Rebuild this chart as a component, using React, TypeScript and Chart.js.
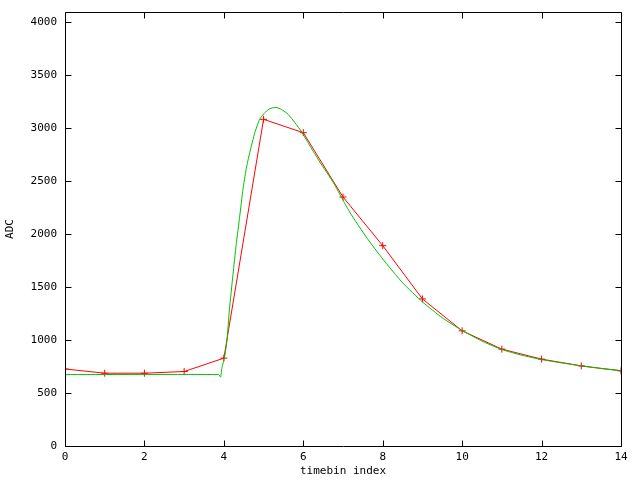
import React, { useEffect, useRef } from "react";
import { Chart, registerables } from "chart.js";

Chart.register(...registerables);

// measured data (red) — ADC per timebin
const redX = [0, 1, 2, 3, 4, 5, 6, 7, 8, 9, 10, 11, 12, 13, 14];
const redY = [727, 687, 687, 703, 829, 3083, 2957, 2350, 1891, 1388, 1087, 914, 820, 756, 709];

// fitted curve (green)
const greenX = [
  0, 3.87, 3.92, 3.95, 4.02, 4.08, 4.14, 4.23, 4.31, 4.4, 4.48, 4.56, 4.65, 4.78, 4.9, 5.03, 5.16,
  5.31, 5.45, 5.62, 5.79, 5.96, 6.17, 6.4, 6.76, 7.0, 7.18, 7.6, 8.0, 8.5, 9.0, 9.5, 10.0, 10.5,
  11.0, 11.5, 12.0, 12.5, 13.0, 13.5, 14.0,
];
const greenY = [
  674, 674, 650, 738, 840, 1000, 1286, 1620, 1900, 2170, 2420, 2610, 2768, 2957, 3083, 3146, 3184,
  3196, 3177, 3130, 3051, 2965, 2830, 2690, 2484, 2320, 2200, 1964, 1765, 1540, 1360, 1210, 1090, 990,
  910, 857, 815, 785, 756, 732, 712,
];

const xTicks = [0, 2, 4, 6, 8, 10, 12, 14];
const yTicks = [0, 500, 1000, 1500, 2000, 2500, 3000, 3500, 4000];
const xMin = 0;
const xMax = 14;
const yMin = 0;
const yMax = 4096;
const xTitle = "timebin index";
const yTitle = "ADC";

const FONT = "'DejaVu Sans Mono', 'Liberation Mono', monospace";

const framePlugin = {
  id: "gnuplotFrame",
  afterDatasetsDraw(chart: any) {
    const { ctx, chartArea } = chart;
    const { left, right, top, bottom } = chartArea;
    const xs = chart.scales.x;
    const ys = chart.scales.y;
    const tl = 6;
    ctx.save();
    ctx.strokeStyle = "#000";
    ctx.lineWidth = 1;
    ctx.beginPath();
    ctx.rect(left + 0.5, top + 0.5, right - left, bottom - top);
    for (const v of xTicks) {
      const px = Math.round(xs.getPixelForValue(v)) + 0.5;
      ctx.moveTo(px, bottom + 0.5);
      ctx.lineTo(px, bottom + 0.5 - tl);
      ctx.moveTo(px, top + 0.5);
      ctx.lineTo(px, top + 0.5 + tl);
    }
    for (const v of yTicks) {
      const py = Math.round(ys.getPixelForValue(v)) + 0.5;
      ctx.moveTo(left + 0.5, py);
      ctx.lineTo(left + 0.5 + tl, py);
      ctx.moveTo(right + 0.5, py);
      ctx.lineTo(right + 0.5 - tl, py);
    }
    ctx.stroke();
    ctx.restore();
  },
};

export default function App() {
  const ref = useRef<HTMLCanvasElement | null>(null);

  useEffect(() => {
    document.body.style.margin = "0";
    const canvas = ref.current;
    if (!canvas) return;
    const chart = new Chart(canvas, {
      type: "line",
      data: {
        datasets: [
          {
            label: "fit",
            data: greenX.map((x, i) => ({ x, y: greenY[i] })),
            borderColor: "#00c000",
            borderWidth: 1,
            pointRadius: 0,
            tension: 0.15,
            fill: false,
            order: 0,
          },
          {
            label: "data",
            data: redX.map((x, i) => ({ x, y: redY[i] })),
            borderColor: "#ff0000",
            borderWidth: 1,
            pointStyle: "cross",
            pointRadius: 3.5,
            pointBorderWidth: 1,
            pointBorderColor: "#ff0000",
            pointBackgroundColor: "#ff0000",
            tension: 0,
            fill: false,
            order: 1,
          },
        ],
      },
      options: {
        animation: false,
        responsive: false,
        devicePixelRatio: 1,
        events: [],
        layout: { padding: { top: 12, right: 19, left: 0, bottom: 0 } },
        plugins: {
          legend: { display: false },
          tooltip: { enabled: false },
          title: { display: false },
        },
        scales: {
          x: {
            type: "linear",
            min: xMin,
            max: xMax,
            grid: { display: false, drawTicks: false, tickLength: 0 },
            border: { display: false },
            afterBuildTicks: (s: any) => {
              s.ticks = xTicks.map((v) => ({ value: v }));
            },
            afterFit: (s: any) => {
              s.height = 34;
              s.paddingLeft = 0;
              s.paddingRight = 0;
            },
            ticks: {
              padding: 5,
              maxRotation: 0,
              autoSkip: false,
              color: "#000",
              font: { family: FONT, size: 11 },
              callback: (v: any) => String(v),
            },
            title: {
              display: true,
              text: xTitle,
              color: "#000",
              font: { family: FONT, size: 11 },
              padding: { top: 0, bottom: 2 },
            },
          },
          y: {
            type: "linear",
            min: yMin,
            max: yMax,
            grid: { display: false, drawTicks: false, tickLength: 0 },
            border: { display: false },
            afterBuildTicks: (s: any) => {
              s.ticks = yTicks.map((v) => ({ value: v }));
            },
            afterFit: (s: any) => {
              s.width = 65;
              s.paddingTop = 0;
              s.paddingBottom = 0;
            },
            ticks: {
              padding: 8,
              autoSkip: false,
              color: "#000",
              font: { family: FONT, size: 11 },
              callback: (v: any) => String(v),
            },
            title: {
              display: true,
              text: yTitle,
              color: "#000",
              font: { family: FONT, size: 11 },
              padding: { top: 4, bottom: 0 },
            },
          },
        },
      },
      plugins: [framePlugin],
    });
    return () => chart.destroy();
  }, []);

  return (
    <div style={{ position: "absolute", left: 0, top: 0, width: 640, height: 480, background: "#fff" }}>
      <canvas ref={ref} width={640} height={480} style={{ width: 640, height: 480 }} />
    </div>
  );
}
